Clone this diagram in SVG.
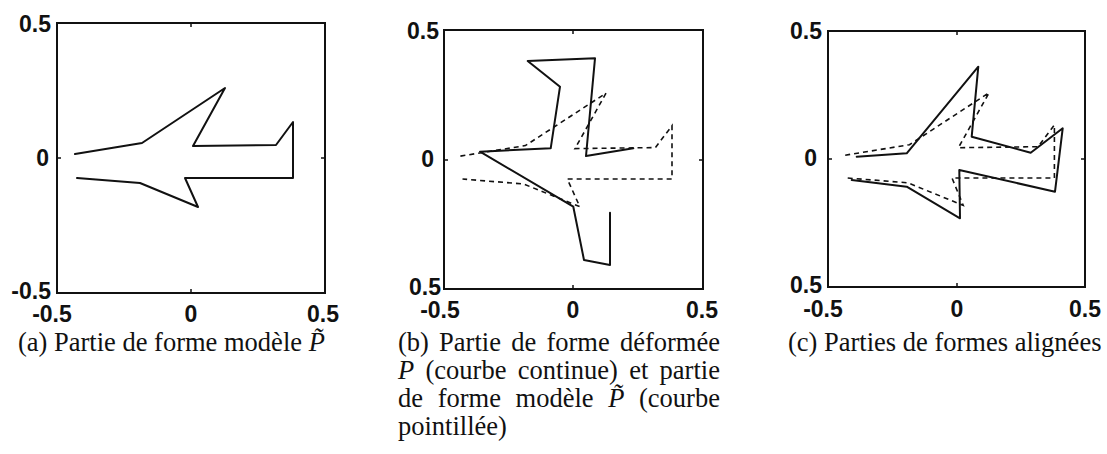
<svg xmlns="http://www.w3.org/2000/svg" width="1107" height="454" viewBox="0 0 1107 454">
<style>
.frame{fill:none;stroke:#111;stroke-width:2}
.tick{stroke:#111;stroke-width:1.5}
.solid{fill:none;stroke:#111;stroke-width:2;stroke-linejoin:round;stroke-linecap:round}
.dash{fill:none;stroke:#111;stroke-width:1.6;stroke-dasharray:5 4}
.lab{font-family:"Liberation Sans",Arial,sans-serif;font-weight:bold;font-size:23px;fill:#111}
.cap{font-family:"Liberation Serif","Times New Roman",serif;font-size:26.5px;fill:#111}
.it{font-style:italic}
</style>
<rect width="1107" height="454" fill="#fff"/>

<g id="panel-a">
<rect class="frame" x="57" y="23" width="268" height="270"/>
<path class="tick" d="M191,23v4M191,293v-4M57,158h4M325,158h-4"/>
<g class="lab" text-anchor="end">
<text x="51" y="32">0.5</text>
<text x="49" y="166">0</text>
<text x="51" y="299">-0.5</text>
</g>
<g class="lab" text-anchor="middle">
<text x="52" y="322">-0.5</text>
<text x="191" y="322">0</text>
<text x="323" y="322">0.5</text>
</g>
<path class="solid" d="M75,154 L142,143 L225,88 L193,146 L276,145 L293,122 L293,178 L185,178 L198,207 L140,183 L77,178"/>
<text class="cap" x="18" y="351">(a) Partie de forme modèle <tspan class="it">P̃</tspan></text>
</g>

<g id="panel-b">
<rect class="frame" x="444" y="30" width="259" height="259"/>
<path class="tick" d="M573,30v4M573,289v-4M444,160h4M703,160h-4"/>
<g class="lab" text-anchor="end">
<text x="439" y="39">0.5</text>
<text x="434" y="167">0</text>
<text x="441" y="295">0.5</text>
</g>
<g class="lab" text-anchor="middle">
<text x="440" y="318">-0.5</text>
<text x="573" y="318">0</text>
<text x="702" y="318">0.5</text>
</g>
<path class="dash" d="M460.4,156.1 L525.4,145.6 L606,93.2 L575,148.6 L655.4,147.6 L672,125.7 L672,179 L567.3,179 L579.8,206.7 L523.6,184 L462.5,179"/>
<path class="solid" d="M633.3,148.3 L586,156 L595,58.3 L527.7,61 L560,86.7 L550.7,148.3 L480,151.7 L573.3,206.7 L584,260 L610,265 L610,212.7"/>
<g class="cap">
<text x="398" y="351" word-spacing="3.6">(b) Partie de forme déformée</text>
<text x="398" y="379" word-spacing="4.7"><tspan class="it">P</tspan> (courbe continue) et partie</text>
<text x="398" y="407" word-spacing="8">de forme modèle <tspan class="it">P̃</tspan> (courbe</text>
<text x="398" y="435">pointillée)</text>
</g>
</g>

<g id="panel-c">
<rect class="frame" x="828" y="31" width="257" height="256"/>
<path class="tick" d="M957,31v4M957,287v-4M828,159h4M1085,159h-4"/>
<g class="lab" text-anchor="end">
<text x="822" y="39">0.5</text>
<text x="817" y="166">0</text>
<text x="822" y="293">0.5</text>
</g>
<g class="lab" text-anchor="middle">
<text x="823" y="317">-0.5</text>
<text x="957" y="317">0</text>
<text x="1085" y="317">0.5</text>
</g>
<path class="dash" d="M845.2,155.2 L909.5,144.7 L989.1,92.7 L958.4,147.7 L1038,146.7 L1054.4,125 L1054.4,178 L952,178 L963.2,205.3 L907.7,182.8 L847.3,178"/>
<path class="solid" d="M856.7,156.7 L906.7,153.3 L978.3,66.7 L971.7,136.7 L1030.7,152.7 L1062.7,128.3 L1055,191.7 L959.3,170 L960,218.3 L906.7,186.7 L851.7,180"/>
<text class="cap" x="788" y="351">(c) Parties de formes alignées</text>
</g>
</svg>
